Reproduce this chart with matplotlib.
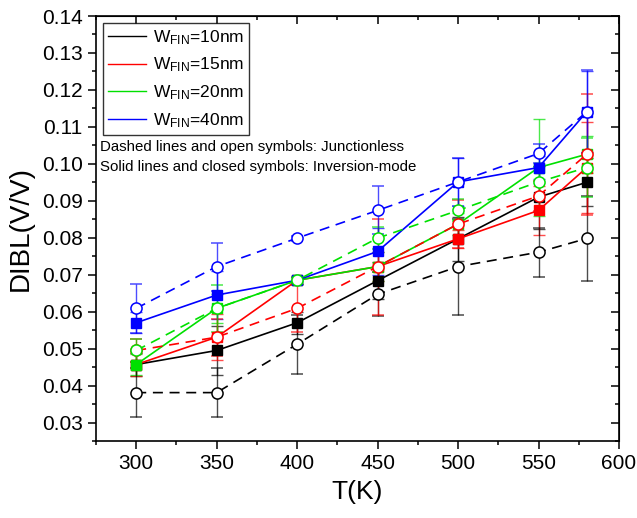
import matplotlib
matplotlib.use("Agg")
import matplotlib.pyplot as plt
from matplotlib.lines import Line2D
from matplotlib.ticker import MultipleLocator

plt.rcParams['font.family'] = ['Liberation Sans', 'DejaVu Sans']
plt.rcParams['mathtext.fontset'] = 'custom'
plt.rcParams['mathtext.rm'] = 'Liberation Sans'
plt.rcParams['mathtext.it'] = 'Liberation Sans'

# temperature (K)
T = [300, 350, 400, 450, 500, 550, 580]

widths = ['10', '15', '20', '40']
colors = ['black', '#ff0000', '#00e000', '#0000ff']

# inversion-mode (solid lines, closed squares)
im_w10 = [0.0457, 0.0495, 0.0570, 0.0684, 0.0797, 0.0910, 0.0950]
im_w15 = [0.0457, 0.0531, 0.0685, 0.0722, 0.0797, 0.0874, 0.0990]
im_w20 = [0.0457, 0.0609, 0.0685, 0.0722, 0.0837, 0.0990, 0.1026]
im_w40 = [0.0570, 0.0645, 0.0685, 0.0763, 0.0951, 0.0990, 0.1141]
im_w10_err = [0.0030, 0.0066, 0.0030, 0.0050, 0.0060, 0.0085, 0.0065]
im_w15_err = [0.0030, 0.0063, 0.0010, 0.0040, 0.0025, 0.0066, 0.0124]
im_w20_err = [0.0028, 0.0040, 0.0010, 0.0040, 0.0030, 0.0130, 0.0050]
im_w40_err = [0.0028, 0.0064, 0.0010, 0.0063, 0.0064, 0.0030, 0.0110]

# junctionless (dashed lines, open circles)
jl_w10 = [0.0381, 0.0381, 0.0512, 0.0647, 0.0722, 0.0761, 0.0798]
jl_w15 = [0.0495, 0.0531, 0.0609, 0.0722, 0.0837, 0.0913, 0.1026]
jl_w20 = [0.0495, 0.0609, 0.0685, 0.0799, 0.0874, 0.0951, 0.0990]
jl_w40 = [0.0609, 0.0722, 0.0799, 0.0874, 0.0951, 0.1028, 0.1141]
jl_w10_err = [0.0067, 0.0067, 0.0080, 0.0060, 0.0130, 0.0066, 0.0114]
jl_w15_err = [0.0030, 0.0050, 0.0064, 0.0130, 0.0065, 0.0040, 0.0164]
jl_w20_err = [0.0030, 0.0064, 0.0010, 0.0030, 0.0030, 0.0040, 0.0080]
jl_w40_err = [0.0067, 0.0065, 0.0007, 0.0065, 0.0064, 0.0026, 0.0112]

im = [im_w10, im_w15, im_w20, im_w40]
im_err = [im_w10_err, im_w15_err, im_w20_err, im_w40_err]
jl = [jl_w10, jl_w15, jl_w20, jl_w40]
jl_err = [jl_w10_err, jl_w15_err, jl_w20_err, jl_w40_err]

fig = plt.figure(figsize=(6.37, 5.18), dpi=100)
ax = fig.add_axes([0.1507, 0.1486, 0.821, 0.8205])

# inversion mode first, junctionless open symbols drawn on top
for i in range(4):
    c = colors[i]
    eb = ax.errorbar(T, im[i], yerr=im_err[i], color=c, ls='-', lw=1.2,
                     marker='s', ms=6.5, mfc=c, mec=c,
                     ecolor=c, elinewidth=1.0, capsize=4, capthick=1.0)
    for art in eb[1] + eb[2]:
        art.set_alpha(0.7)
for i in range(4):
    c = colors[i]
    eb = ax.errorbar(T, jl[i], yerr=jl_err[i], color=c, ls=(0, (6, 4)), lw=1.2,
                     marker='o', ms=8, mfc='white', mec=c, mew=1.1,
                     ecolor=c, elinewidth=1.0, capsize=4, capthick=1.0)
    for art in eb[1] + eb[2]:
        art.set_alpha(0.7)

ax.set_xlim(275, 600)
ax.set_ylim(0.025, 0.14)
ax.xaxis.set_major_locator(MultipleLocator(50))
ax.xaxis.set_minor_locator(MultipleLocator(25))
ax.yaxis.set_major_locator(MultipleLocator(0.01))
ax.yaxis.set_minor_locator(MultipleLocator(0.005))
ax.yaxis.set_major_formatter(plt.FormatStrFormatter('%.2f'))
ax.tick_params(which='both', direction='out', labelsize=15, width=1.1)
ax.tick_params(which='major', length=6)
ax.tick_params(which='minor', length=3)
for s in ax.spines.values():
    s.set_linewidth(1.2)

# inward ticks on top and right
top = ax.secondary_xaxis('top')
top.xaxis.set_major_locator(MultipleLocator(50))
top.xaxis.set_minor_locator(MultipleLocator(25))
top.tick_params(which='both', direction='in', labeltop=False, width=1.1)
top.tick_params(which='major', length=6)
top.tick_params(which='minor', length=3)
right = ax.secondary_yaxis('right')
right.yaxis.set_major_locator(MultipleLocator(0.01))
right.yaxis.set_minor_locator(MultipleLocator(0.005))
right.tick_params(which='both', direction='in', labelright=False, width=1.1)
right.tick_params(which='major', length=6)
right.tick_params(which='minor', length=3)

ax.set_xlabel('T(K)', fontsize=19, labelpad=5)
ax.set_ylabel('DIBL(V/V)', fontsize=20, labelpad=6)

handles = [Line2D([], [], color=colors[i], lw=1.0) for i in range(4)]
labels = [r'W$_{\rm FIN}$=' + w + 'nm' for w in widths]
leg = ax.legend(handles, labels, loc='upper left', bbox_to_anchor=(0.013, 0.984),
                borderaxespad=0, fontsize=12.5, frameon=True, fancybox=False,
                handlelength=2.2, handletextpad=0.4, labelspacing=0.52,
                borderpad=0.3, edgecolor='black')
leg.get_frame().set_linewidth(1.0)

ax.text(0.008, 0.692, 'Dashed lines and open symbols: Junctionless',
        transform=ax.transAxes, fontsize=10.8, va='center', ha='left')
ax.text(0.008, 0.645, 'Solid lines and closed symbols: Inversion-mode',
        transform=ax.transAxes, fontsize=10.8, va='center', ha='left')

fig.savefig('out.png', dpi=100)
